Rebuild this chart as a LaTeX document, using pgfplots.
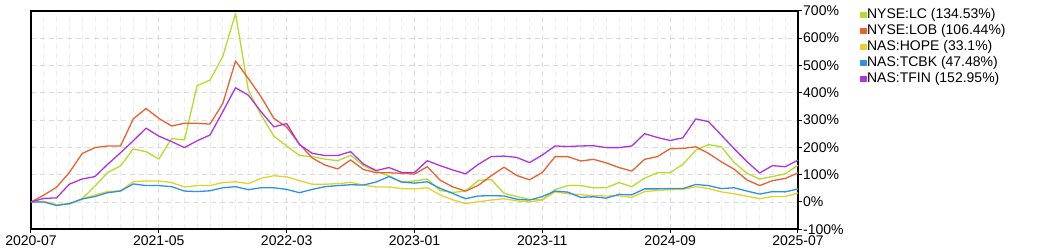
\documentclass[border=0pt]{standalone}
\usepackage{pgfplots}
\pgfplotsset{compat=1.18}
\usepackage{pgfplotstable}
\usepackage{fontspec}
\setmainfont{Liberation Sans}
\definecolor{cLC}{HTML}{B5DC2A}
\definecolor{cLOB}{HTML}{E8622F}
\definecolor{cHOPE}{HTML}{E3D22B}
\definecolor{cTCBK}{HTML}{2E92E0}
\definecolor{cTFIN}{HTML}{B033E0}
\pgfplotstableread{
i LC LOB HOPE TCBK TFIN
0 0 0 0 0 0
1 2 25 2 0 13
2 -10 54 -10 -13 15
3 -7 108 -7 -6 65
4 12 177 10 11 84
5 58 199 26 20 93
6 108 205 38 34 138
7 132 205 41 40 180
8 194 304 74 66 224
9 184 342 77 60 270
10 157 306 77 60 241
11 232 278 71 56 221
12 227 288 55 40 199
13 426 288 60 38 224
14 446 285 60 41 245
15 532 360 71 52 330
16 690 516 74 56 418
17 410 452 67 45 391
18 318 385 87 52 330
19 241 306 96 52 275
20 205 274 92 46 287
21 170 212 78 34 210
22 166 161 65 46 178
23 157 135 65 56 170
24 151 121 67 60 170
25 171 154 72 63 184
26 133 119 62 62 139
27 112 107 55 73 115
28 96 107 55 93 126
29 72 105 49 73 108
30 77 102 48 69 108
31 84 129 52 74 151
32 42 80 26 50 133
33 35 55 8 31 117
34 40 40 -6 12 103
35 79 61 1 22 138
36 82 96 7 23 166
37 32 127 12 22 168
38 20 97 4 10 163
39 9 81 0 7 144
40 8 108 7 20 172
41 46 166 37 40 205
42 60 166 30 36 203
43 60 150 27 17 205
44 52 156 23 19 206
45 52 143 22 14 199
46 71 126 23 28 199
47 56 113 17 26 205
48 87 156 38 48 250
49 107 166 42 48 236
50 107 195 45 49 225
51 138 196 46 49 235
52 189 202 56 64 304
53 210 178 49 60 294
54 202 147 37 49 245
55 145 120 30 52 195
56 105 81 21 40 148
57 84 60 12 29 106
58 93 78 20 38 133
59 103 86 20 37 129
60 134.53 106.44 33.1 47.48 152.95
}\datatable
\begin{document}
\begin{tikzpicture}[x=1pt,y=1pt]
\path[use as bounding box] (0,0) rectangle (1050,250);
\begin{axis}[
  at={(31pt,20.7pt)}, anchor=south west,
  scale only axis, width=767pt, height=218.6pt,
  xmin=0, xmax=60, ymin=-100, ymax=700,
  xtick={0,10,...,60},
  xticklabels={2020-07,2021-05,2022-03,2023-01,2023-11,2024-09,2025-07},
  minor xtick={1,...,59},
  ytick={-100,0,...,700},
  yticklabels={-100\%,0\%,100\%,200\%,300\%,400\%,500\%,600\%,700\%},
  xtick pos=lower, ytick pos=right,
  tick align=outside, major tick length=4pt, minor tick length=0pt,
  xmajorgrids, xminorgrids, ymajorgrids,
  major grid style={draw=black!14, dash pattern=on 5pt off 4pt, line width=0.8pt},
  minor grid style={draw=black!7, dash pattern=on 5pt off 4pt, line width=0.8pt},
  axis line style={black, line width=1.8pt},
  every tick/.style={black, line width=1pt},
  ticklabel style={font=\fontsize{14}{14}\selectfont},
  yticklabel style={anchor=west, inner sep=0pt, xshift=1pt},
  xticklabel style={inner sep=0pt, yshift=-2pt, text height=10pt, anchor=north},
  legend style={at={(1.081,1.017)}, anchor=north west, draw=none, fill=none,
    font=\fontsize{14}{16}\selectfont, inner sep=0pt, row sep=0pt,
    nodes={inner sep=0.5pt, text height=11pt, text depth=4pt}},
  legend cell align=left,
  legend image code/.code={\fill (0pt,-2.5pt) rectangle (5pt,2.5pt);},
  every axis plot/.append style={line width=1.3pt, line join=round},
  clip=false,
]
\addplot[color=cLC, no markers] table[x=i,y=LC]{\datatable};
\addlegendentry{NYSE:LC (134.53\%)}
\addplot[color=cLOB, no markers] table[x=i,y=LOB]{\datatable};
\addlegendentry{NYSE:LOB (106.44\%)}
\addplot[color=cHOPE, no markers] table[x=i,y=HOPE]{\datatable};
\addlegendentry{NAS:HOPE (33.1\%)}
\addplot[color=cTCBK, no markers] table[x=i,y=TCBK]{\datatable};
\addlegendentry{NAS:TCBK (47.48\%)}
\addplot[color=cTFIN, no markers] table[x=i,y=TFIN]{\datatable};
\addlegendentry{NAS:TFIN (152.95\%)}
\end{axis}
\end{tikzpicture}
\end{document}
